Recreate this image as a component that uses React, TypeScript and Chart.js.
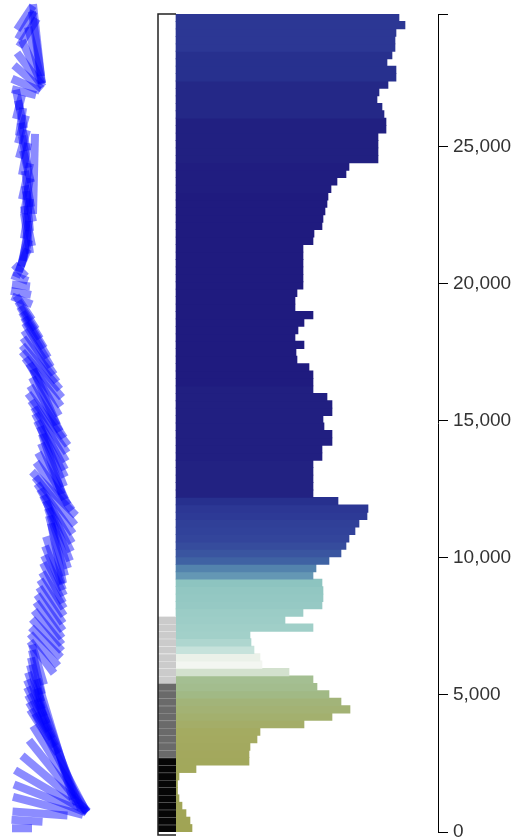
import React, { useEffect, useRef } from 'react';
import { Chart, registerables } from 'chart.js';

Chart.register(...registerables);

// ---------- data ----------
// band-centre altitudes of the levels
const levels = [
  136, 407, 678, 950, 1221, 1492, 1764, 2035, 2306, 2578,
  2849, 3120, 3392, 3663, 3934, 4206, 4477, 4748, 5020, 5291,
  5562, 5834, 6105, 6376, 6648, 6919, 7190, 7462, 7733, 8004,
  8276, 8547, 8818, 9090, 9361, 9632, 9904, 10175, 10446, 10718,
  10989, 11260, 11532, 11803, 12074, 12346, 12617, 12888, 13160, 13431,
  13702, 13974, 14245, 14516, 14788, 15059, 15330, 15602, 15873, 16144,
  16416, 16687, 16958, 17230, 17501, 17772, 18044, 18315, 18586, 18858,
  19129, 19400, 19672, 19943, 20214, 20486, 20757, 21028, 21300, 21571,
  21842, 22114, 22385, 22656, 22928, 23199, 23470, 23742, 24013, 24284,
  24556, 24827, 25098, 25370, 25641, 25912, 26184, 26455, 26726, 26998,
  27269, 27540, 27812, 28083, 28354, 28626, 28897, 29168, 29440, 29711,
];

// horizontal bar lengths
const barValues = [
  16, 14, 10, 6, 3, 1.5, 1.5, 3, 20, 73,
  73, 74, 81, 84, 128, 156, 174, 165, 153, 141,
  137, 113, 86, 84, 78, 75, 74, 137, 109, 127,
  146, 147, 147, 146, 137, 140, 153, 165, 170, 173,
  179, 183, 191, 192, 162, 137, 137, 137, 137, 137,
  146, 146, 156, 156, 148, 147, 156, 156, 151, 137,
  137, 137, 133, 121, 120, 128, 119, 122, 128, 137,
  119, 119, 121, 127, 127, 127, 127, 127, 127, 137,
  138, 146, 147, 149, 151, 152, 155, 161, 170, 173,
  202, 202, 202, 202, 210, 210, 208, 206, 201, 203,
  212, 220, 220, 211, 216, 219, 219, 220, 229, 223,
];

// temperature per level (drives bar colour)
const tempC = [
  16, 15.5, 15, 14.5, 14, 13.5, 13, 12.5, 12, 11.5,
  11, 10, 9, 8.5, 7.5, 7, 6.5, 6, 5, 4,
  3.5, 1.5, 0, 0.5, -2, -4, -5, -6, -7, -8,
  -10, -11, -12, -14, -22, -26, -32, -35, -37, -39,
  -40, -41, -43, -44, -47, -52, -52, -52, -52, -52,
  -54, -54, -54, -54, -54, -54, -54, -54, -54, -54,
  -56, -56, -56, -56, -56, -56, -56, -56, -56, -56,
  -56, -56, -56, -56, -56, -56, -56, -56, -56, -56,
  -56, -56, -56, -56, -56, -56, -55, -55, -55, -55,
  -53, -53, -53, -53, -53, -53, -50, -50, -50, -50,
  -50, -47, -47, -47, -47, -44, -44, -44, -44, -44,
];

// cloud category per level (0 none .. 3 dense)
const cloudCover = [
  3, 3, 3, 3, 3, 3, 3, 3, 3, 3,
  2, 2, 2, 2, 2, 2, 2, 2, 2, 2,
  1, 1, 1, 1, 1, 1, 1, 1, 1, 0,
  0, 0, 0, 0, 0, 0, 0, 0, 0, 0,
  0, 0, 0, 0, 0, 0, 0, 0, 0, 0,
  0, 0, 0, 0, 0, 0, 0, 0, 0, 0,
  0, 0, 0, 0, 0, 0, 0, 0, 0, 0,
  0, 0, 0, 0, 0, 0, 0, 0, 0, 0,
  0, 0, 0, 0, 0, 0, 0, 0, 0, 0,
  0, 0, 0, 0, 0, 0, 0, 0, 0, 0,
  0, 0, 0, 0, 0, 0, 0, 0, 0, 0,
];

// wind sticks: centre position, half-vector (u across, v along altitude)
const windX = [
  22, 27, 40, 48, 50, 51, 55, 58, 60, 60,
  59, 57, 55, 44, 42, 40, 38, 37, 36, 36,
  36, 37, 38, 42, 44, 46, 47, 48, 49, 50,
  51, 52, 53, 53, 54, 54, 54, 57, 57, 58,
  58, 57, 56, 55, 55, 54, 54, 53, 53, 52,
  52, 51, 50, 50, 49, 48, 47, 46, 45, 44,
  43, 42, 41, 40, 39, 38, 36, 33, 30, 27,
  24, 22, 21, 21, 20, 20, 22, 24, 25, 26,
  27, 28, 27, 28, 29, 27, 28, 26, 34, 27,
  25, 25, 23, 24, 22, 21, 21, 19, 18, 24,
  26, 28, 30, 32, 35, 37, 37, 28, 26, 25,
];
const windU = [
  10, 15.5, 27.5, 35, 36, 36, 33, 29, 27, 25,
  22, 20, 18, 14, 13, 12, 11, 10, 8, 6,
  5, 5, 6, 12, 14, 15, 15, 14, 13, 13,
  12, 12, 11, 10, 10, 9, 8, 6, 8, 10,
  12, 14, 16, 18, 20, 22, 18, 15, 12, 10,
  12, 14, 15, 16, 18, 20, 17, 14, 12, 15,
  18, 20, 19, 17, 15, 13, 12, 11, 10, 9,
  8, 10, 10, 9, 8, 6, -6, -5, -4, -3,
  3, 4, -3, 2, 4, -3, 3, -4, -1, 4,
  -3, 3, -4, 3, -4, -2, 3, -3, 2, 12,
  14, 14, 13, 10, 7, 5, 4, -9, -8, -8,
];
const windV = [
  0, 1, 2, 9, 14, 21, 28, 36, 43, 48,
  55, 58, 60, 22, 22, 22, 22, 22, 22, 22,
  22, 22, 20, 16, 16, 15, 16, 17, 18, 18,
  18, 18, 18, 20, 20, 22, 24, 30, 30, 30,
  30, 28, 27, 25, 24, 22, 24, 26, 28, 30,
  30, 28, 28, 27, 26, 26, 26, 27, 28, 26,
  24, 23, 22, 22, 22, 22, 20, 18, 16, 14,
  12, 4, 2, 1, 3, 6, 14, 16, 18, 20,
  20, 20, 20, 20, 18, 18, 18, 18, 40, 16,
  16, 16, 14, 14, 14, 14, 14, 12, 10, 3,
  6, 12, 17, 22, 28, 36, 36, 14, 14, 12,
];

const yTickValues = [0, 5000, 10000, 15000, 20000, 25000];

// ---------- layout / style ----------
const W = 520;
const H = 840;
const AREA_TOP = 14;
const AREA_BOTTOM = 832;
const AREA_RIGHT = 438;
const Y_MAX = 29850;
const BAR_LEFT = 176;
const COL_LEFT = 158;
const COL_W = 18;
const BAND_PX = 7.6;
const M_PER_PX = Y_MAX / (AREA_BOTTOM - AREA_TOP);

const TEMP_STOPS: [number, string][] = [
  [16, '#a0a454'],
  [8, '#a4ab62'],
  [5, '#a1b985'],
  [3, '#a5c196'],
  [1, '#e2ece0'],
  [0, '#f3f6f1'],
  [-2, '#c6e2db'],
  [-5, '#a2d0c9'],
  [-14, '#8dc4c0'],
  [-22, '#6497b4'],
  [-27, '#4f7eab'],
  [-32, '#3f62a3'],
  [-38, '#34489c'],
  [-43, '#2d3a96'],
  [-48, '#262d8c'],
  [-52, '#222282'],
  [-56, '#1f1b7f'],
];

function hexToRgb(h: string) {
  return [parseInt(h.slice(1, 3), 16), parseInt(h.slice(3, 5), 16), parseInt(h.slice(5, 7), 16)];
}

function tempColor(t: number) {
  if (t >= TEMP_STOPS[0][0]) return TEMP_STOPS[0][1];
  for (let k = 0; k < TEMP_STOPS.length - 1; k++) {
    const [t0, c0] = TEMP_STOPS[k];
    const [t1, c1] = TEMP_STOPS[k + 1];
    if (t <= t0 && t >= t1) {
      const f = (t0 - t) / (t0 - t1);
      const a = hexToRgb(c0);
      const b = hexToRgb(c1);
      const m = a.map((v, j) => Math.round(v + (b[j] - v) * f));
      return `rgb(${m[0]},${m[1]},${m[2]})`;
    }
  }
  return TEMP_STOPS[TEMP_STOPS.length - 1][1];
}

const CLOUD_COLORS = ['rgba(255,255,255,0)', '#cbcbcb', '#6a6a6a', '#060606'];
const CLOUD_LINES = ['rgba(255,255,255,0)', 'rgba(235,235,235,0.9)', 'rgba(150,150,150,0.9)', 'rgba(110,110,110,0.9)'];

const framePlugin = {
  id: 'columnFrame',
  afterDatasetsDraw(chart: any) {
    const xc = chart.scales.xc;
    const y = chart.scales.y;
    const l = xc.getPixelForValue(0);
    const r = xc.getPixelForValue(1);
    const t = y.getPixelForValue(Y_MAX);
    const b = y.getPixelForValue(0);
    const ctx = chart.ctx;
    ctx.save();
    ctx.strokeStyle = '#222';
    ctx.lineWidth = 1.5;
    ctx.beginPath();
    ctx.moveTo(r, t);
    ctx.lineTo(l, t);
    ctx.lineTo(l, b + 3);
    ctx.lineTo(r, b + 3);
    ctx.stroke();
    ctx.restore();
  },
};

const hiddenX = (min: number, max: number) => ({
  type: 'linear',
  axis: 'x',
  position: 'bottom',
  display: false,
  offset: false,
  bounds: 'data',
  grid: { offset: false },
  min,
  max,
});

export default function App() {
  const ref = useRef<HTMLCanvasElement>(null);

  useEffect(() => {
    const areaW = AREA_RIGHT;

    const barData = levels.map((a, i) => ({ x: barValues[i], y: a }));
    const colData = levels.map((a) => ({ x: [0, 1], y: a }));

    const stickSets = levels.map((a, i) => ({
      type: 'line' as const,
      xAxisID: 'xw',
      yAxisID: 'y',
      data: [
        { x: windX[i] - windU[i], y: a + windV[i] * M_PER_PX },
        { x: windX[i] + windU[i], y: a - windV[i] * M_PER_PX },
      ],
      borderColor: 'rgba(0,0,255,0.45)',
      borderWidth: 8,
      borderCapStyle: 'butt' as const,
      pointRadius: 0,
      fill: false,
      tension: 0,
      clip: false as any,
    }));

    const chart = new Chart(ref.current as HTMLCanvasElement, {
      type: 'bar',
      data: {
        datasets: [
          {
            type: 'bar',
            indexAxis: 'y',
            xAxisID: 'xc',
            yAxisID: 'y',
            data: colData as any,
            backgroundColor: cloudCover.map((c) => CLOUD_COLORS[c]),
            borderColor: cloudCover.map((c) => CLOUD_LINES[c]),
            borderWidth: { top: 1, bottom: 0, left: 0, right: 0 } as any,
            borderSkipped: false,
            barThickness: BAND_PX,
            grouped: false,
          } as any,
          {
            type: 'bar',
            indexAxis: 'y',
            xAxisID: 'xb',
            yAxisID: 'y',
            data: barData as any,
            backgroundColor: tempC.map(tempColor),
            borderWidth: 0,
            barThickness: BAND_PX,
            grouped: false,
          } as any,
          ...(stickSets as any[]),
        ],
      },
      options: {
        responsive: false,
        animation: false,
        events: [],
        devicePixelRatio: 1,
        layout: { padding: { top: AREA_TOP, bottom: H - AREA_BOTTOM, left: 0, right: 0 } },
        plugins: { legend: { display: false }, tooltip: { enabled: false }, title: { display: false } },
        scales: {
          xw: hiddenX(0, areaW),
          xb: hiddenX(-BAR_LEFT, areaW - BAR_LEFT),
          xc: hiddenX(-COL_LEFT / COL_W, (areaW - COL_LEFT) / COL_W),
          y: {
            type: 'linear',
            position: 'right',
            min: 0,
            max: Y_MAX,
            offset: false,
            afterBuildTicks: (scale: any) => {
              scale.ticks = [...yTickValues, Y_MAX].map((v) => ({ value: v }));
            },
            afterFit: (scale: any) => {
              scale.width = W - AREA_RIGHT;
              scale.paddingTop = 0;
              scale.paddingBottom = 0;
            },
            ticks: {
              autoSkip: false,
              padding: 5,
              color: '#333',
              font: { family: '"Liberation Sans", Arial, sans-serif', size: 19 },
              callback: (v: any) => (yTickValues.includes(Number(v)) ? Number(v).toLocaleString('en-US') : ''),
            },
            grid: { drawOnChartArea: false, drawTicks: true, tickLength: 10, color: '#000', lineWidth: 1, offset: false },
            border: { display: true, color: '#000', width: 1 },
          } as any,
        } as any,
      } as any,
      plugins: [framePlugin],
    });
    return () => chart.destroy();
  }, []);

  return (
    <div style={{ position: 'absolute', left: 0, top: 0, width: W, height: H, background: '#fff' }}>
      <canvas ref={ref} width={W} height={H} style={{ display: 'block', width: W, height: H }} />
    </div>
  );
}
